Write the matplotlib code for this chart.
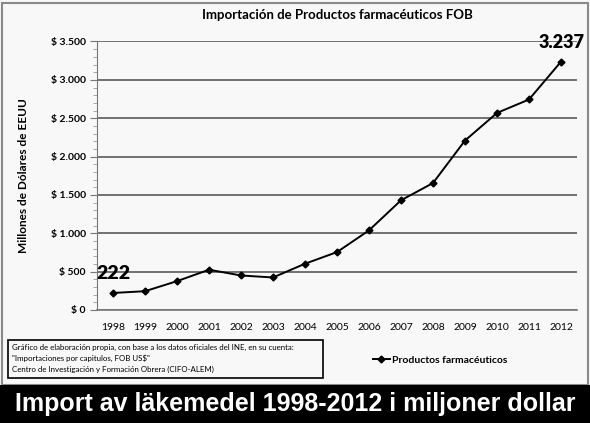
import matplotlib.pyplot as plt
from matplotlib.lines import Line2D
from matplotlib.patches import Rectangle
from matplotlib.ticker import MultipleLocator, FuncFormatter

years = [1998, 1999, 2000, 2001, 2002, 2003, 2004, 2005,
         2006, 2007, 2008, 2009, 2010, 2011, 2012]
imports = [222, 245, 376, 525, 450, 424, 603, 755,
           1038, 1430, 1655, 2209, 2569, 2744, 3237]
series_name = 'Productos farmacéuticos'
title = 'Importación de Productos farmacéuticos FOB'
ylabel = 'Millones de Dólares de EEUU'
source_lines = [
    'Gráfico de elaboración propia, con base a los datos oficiales del INE, en su cuenta:',
    '"Importaciones por capitulos, FOB US$"',
    'Centro de Investigación y Formación Obrera (CIFO-ALEM)',
]
banner = 'Import av läkemedel 1998-2012 i miljoner dollar'

W, H = 590, 423
fig = plt.figure(figsize=(W / 100, H / 100), dpi=100)
fig.patch.set_facecolor('#f8f8f8')

# outer grey frame of the chart and black banner at the bottom
fig.add_artist(Rectangle((2 / W, 38 / H), 586 / W, 382 / H, transform=fig.transFigure,
                         fill=False, edgecolor='#8a8a8a', lw=1.5))
fig.add_artist(Rectangle((0, 0), 1, 38 / H, transform=fig.transFigure,
                         facecolor='black', edgecolor='none'))
fig.text(0.5, 19 / H, banner, color='white', fontsize=18, fontweight='bold',
         family='Liberation Sans', ha='center', va='center')

ax = fig.add_axes([97 / W, 1 - 310 / H, (577 - 97) / W, (310 - 41.5) / H])
ax.set_facecolor('#f8f8f8')
ax.plot(years, imports, color='black', lw=1.4, marker='D', markersize=3.5)
ax.set_xlim(1997.5, 2012.5)
ax.set_ylim(0, 3500)
ax.yaxis.set_major_locator(MultipleLocator(500))
ax.yaxis.set_minor_locator(MultipleLocator(100))
ax.yaxis.set_major_formatter(FuncFormatter(lambda v, p: '$ ' + f'{int(v):,}'.replace(',', '.')))
ax.set_xticks(years)
ax.grid(axis='y', color='#5a5a5a', lw=1.2)
for s in ['top', 'right']:
    ax.spines[s].set_visible(False)
ax.spines['left'].set_color('#777777')
ax.spines['bottom'].set_color('#777777')
ax.spines['bottom'].set_linewidth(1.2)
ax.tick_params(axis='x', length=0, pad=9, labelsize=7.5)
ax.tick_params(axis='y', which='major', length=5, color='#777777', labelsize=7.5, pad=3)
ax.tick_params(axis='y', which='minor', length=3, color='#999999')
for lab in ax.get_yticklabels():
    lab.set_fontweight('bold')
for lab in ax.get_xticklabels() + ax.get_yticklabels():
    lab.set_family('Lato')
ax.set_title(title, fontsize=9.5, fontweight='bold', family='Lato', pad=16)
ax.set_ylabel(ylabel, fontsize=8.5, fontweight='bold', family='Lato', labelpad=16)

ax.annotate(f'{imports[0]}', (years[0], imports[0]), xytext=(-12, 10),
            textcoords='offset points', fontsize=14, fontweight='heavy', family='Lato')
ax.annotate(f'{imports[-1]:,}'.replace(',', '.'), (years[-1], imports[-1]), xytext=(-16, 10),
            textcoords='offset points', fontsize=13, fontweight='heavy', family='Lato')

# source box
fig.add_artist(Rectangle((8 / W, 1 - 378 / H), 315 / W, 38 / H, transform=fig.transFigure,
                         fill=False, edgecolor='black', lw=1.2))
for i, line in enumerate(source_lines):
    fig.text(12 / W, 1 - (347 + i * 11) / H, line, fontsize=5.7, family='Lato',
             ha='left', va='center')

handle = Line2D([], [], color='black', lw=1.4, marker='D', markersize=3.5)
fig.legend([handle], [series_name], loc='center', bbox_to_anchor=(440 / W, 1 - 360 / H),
           frameon=False, handlelength=1.6, handletextpad=0.2,
           prop={'family': 'Lato', 'weight': 'bold', 'size': 7.5})

fig.savefig('out.png', dpi=100, facecolor=fig.get_facecolor())
